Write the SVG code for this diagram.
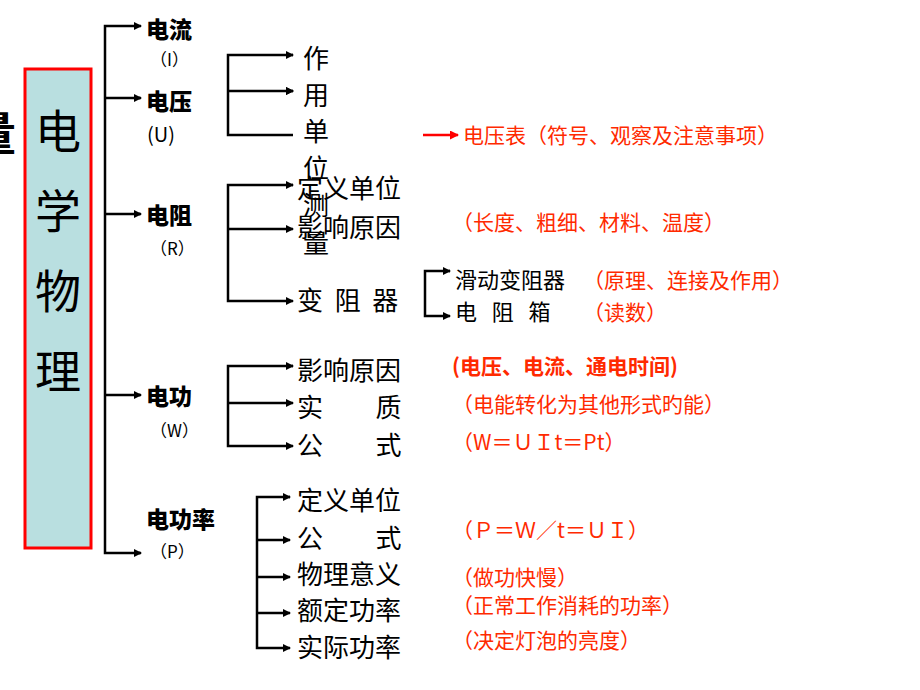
<svg xmlns="http://www.w3.org/2000/svg" width="920" height="690" viewBox="0 0 920 690">
<style>
text{font-family:"Noto Sans CJK SC","Liberation Sans",sans-serif;white-space:pre;}
.h{font-size:23px;font-weight:900;}
.s{font-size:17px;}
.t{font-size:26px;}
.m{font-size:22px;}
.r{font-size:21px;fill:#ff2a00;}
.l{fill:none;stroke:#000;stroke-width:2.5;}
</style>
<defs><marker id="a" markerWidth="8" markerHeight="8" refX="7" refY="4" orient="auto" markerUnits="userSpaceOnUse"><path d="M0,0L8,4L0,8z" fill="#000"/></marker>
<marker id="ar" markerWidth="9" markerHeight="9" refX="8" refY="4.5" orient="auto" markerUnits="userSpaceOnUse"><path d="M0,0L9,4.5L0,9z" fill="#ff0000"/></marker></defs>
<text x="-30" y="150" style="font-size:46px;font-weight:bold">量</text>
<g id="root"><rect x="25" y="69" width="66" height="479" fill="#b9dfe0" stroke="#ff0000" stroke-width="3"/>
<text x="58" y="148" text-anchor="middle" style="font-size:46px">电</text>
<text x="58" y="228" text-anchor="middle" style="font-size:46px">学</text>
<text x="58" y="308" text-anchor="middle" style="font-size:46px">物</text>
<text x="58" y="388" text-anchor="middle" style="font-size:46px">理</text></g>
<g id="connectors">
<path class="l" d="M140,26H105V553H140M105,98H140M105,214H140M105,395H140"/>
<path class="l" d="M140,26H141" marker-end="url(#a)"/>
<path class="l" d="M139,98H141" marker-end="url(#a)"/>
<path class="l" d="M139,214H141" marker-end="url(#a)"/>
<path class="l" d="M139,395H141" marker-end="url(#a)"/>
<path class="l" d="M139,553H141" marker-end="url(#a)"/>
<path class="l" d="M293,55H228V135H293M228,91H293" marker-end="url(#a)"/>
<path class="l" d="M292,91H293" marker-end="url(#a)"/>
<path class="l" d="M292,55H293" marker-end="url(#a)"/>
<path class="l" d="M293,185H228V301H293" marker-end="url(#a)"/>
<path class="l" d="M228,229H293" marker-end="url(#a)"/>
<path class="l" d="M292,185H293" marker-end="url(#a)"/>
<path class="l" d="M450,271H425V316H450" marker-end="url(#a)"/>
<path class="l" d="M449,271H450" marker-end="url(#a)"/>
<path class="l" d="M293,366H228V446H293" marker-end="url(#a)"/>
<path class="l" d="M228,403H293" marker-end="url(#a)"/>
<path class="l" d="M292,366H293" marker-end="url(#a)"/>
<path class="l" d="M290,497H257V648H290" marker-end="url(#a)"/>
<path class="l" d="M257,540H290" marker-end="url(#a)"/>
<path class="l" d="M257,577H290" marker-end="url(#a)"/>
<path class="l" d="M257,613H290" marker-end="url(#a)"/>
<path class="l" d="M289,497H290" marker-end="url(#a)"/>
<path d="M423,135H458" stroke="#ff0000" stroke-width="2.5" marker-end="url(#ar)"/>
</g>
<g id="I"><text class="h" x="146" y="38">电流</text><text class="s" x="150" y="66">（I）</text></g>
<g id="U"><text class="h" x="146" y="110">电压</text><text x="147" y="142" style="font-size:20px">(U)</text></g>
<g id="R"><text class="h" x="146" y="224">电阻</text><text class="s" x="150" y="255">（R）</text></g>
<g id="W"><text class="h" x="146" y="405">电功</text><text class="s" x="150" y="437">（W）</text></g>
<g id="P"><text class="h" x="146" y="528">电功率</text><text class="s" x="150" y="558">（P）</text></g>
<g id="u-items"><text class="t" x="303" y="68">作</text><text class="t" x="303" y="105">用</text><text class="t" x="303" y="141">单</text><text class="t" x="303" y="178">位</text></g>
<g id="r-items"><text class="t" x="297" y="198">定义单位</text><text class="t" x="303" y="215">测</text><text class="t" x="303" y="253">量</text><text class="t" x="297" y="237">影响原因</text><text class="t" x="297" y="310">变  阻  器</text></g>
<g id="rheo"><text class="m" x="455" y="288">滑动变阻器</text><text class="m" x="455" y="320">电   阻   箱</text></g>
<g id="w-items"><text class="t" x="297" y="380">影响原因</text><text class="t" x="297" y="417">实         质</text><text class="t" x="297" y="455">公         式</text></g>
<g id="p-items"><text class="t" x="297" y="510">定义单位</text><text class="t" x="297" y="548">公         式</text><text class="t" x="297" y="584">物理意义</text><text class="t" x="297" y="620">额定功率</text><text class="t" x="297" y="657">实际功率</text></g>
<g id="notes">
<text class="r" x="463" y="143">电压表（符号、观察及注意事项）</text>
<text class="r" x="452" y="230">（长度、粗细、材料、温度）</text>
<text class="r" x="583" y="288">（原理、连接及作用）</text>
<text class="r" x="583" y="320">（读数）</text>
<text class="r" x="452" y="374" font-weight="bold">(电压、电流、通电时间)</text>
<text class="r" x="452" y="412">（电能转化为其他形式旳能）</text>
<text class="r" x="452" y="450">（W＝ＵＩt＝Pt）</text>
<text class="r" x="452" y="538">（Ｐ＝Ｗ／t＝ＵＩ）</text>
<text class="r" x="452" y="585">（做功快慢）</text>
<text class="r" x="452" y="613">（正常工作消耗的功率）</text>
<text class="r" x="452" y="648">（决定灯泡的亮度）</text>
</g>
</svg>
